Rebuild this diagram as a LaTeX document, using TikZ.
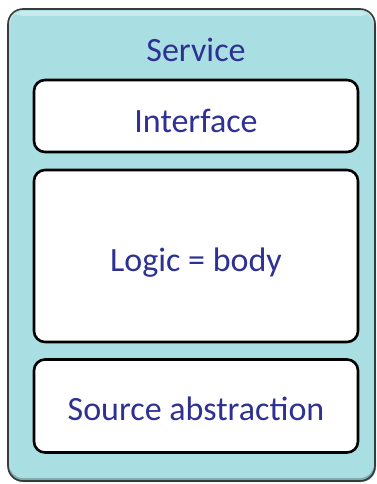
\documentclass[tikz,border=0pt]{standalone}
\usepackage{fontspec}
\setmainfont{Carlito}
\definecolor{svcfill}{HTML}{A9DFE3}
\definecolor{svcline}{HTML}{3A3A3A}
\definecolor{svcshade}{HTML}{7FA9AC}
\definecolor{txtblue}{HTML}{2E3192}
\begin{document}
\begin{tikzpicture}[x=1pt,y=-1pt,
  layerbox/.style={draw=black,line width=2.6pt,fill=white,rounded corners=11pt,
    minimum width=324pt,text=txtblue,font=\fontsize{34}{37}\selectfont,
    inner sep=0pt,text depth=0pt},
  svctext/.style={text=txtblue,font=\fontsize{34}{37}\selectfont,inner sep=0pt}]
\useasboundingbox (0,0) rectangle (377,484);
% outer service box with slight bevel
\fill[svcshade,rounded corners=15pt] (8,11) rectangle (376,482);
\fill[svcfill,rounded corners=14pt] (9,10) rectangle (374,478);
\fill[white,opacity=0.35,rounded corners=13pt] (10,11) rectangle (373,16);
\draw[svcline,line width=1.6pt,rounded corners=15pt] (8,9) rectangle (375,481);
\node[svctext,anchor=base] (service) at (196,62) {Service};
\node[layerbox,minimum height=72pt,text height=32pt] (interface) at (196,116) {Interface};
\node[layerbox,minimum height=172pt,text height=30pt] (logic) at (196,256) {Logic = body};
\node[layerbox,minimum height=93pt,text height=28pt] (source) at (196,406) {Source abstraction};
\end{tikzpicture}
\end{document}
